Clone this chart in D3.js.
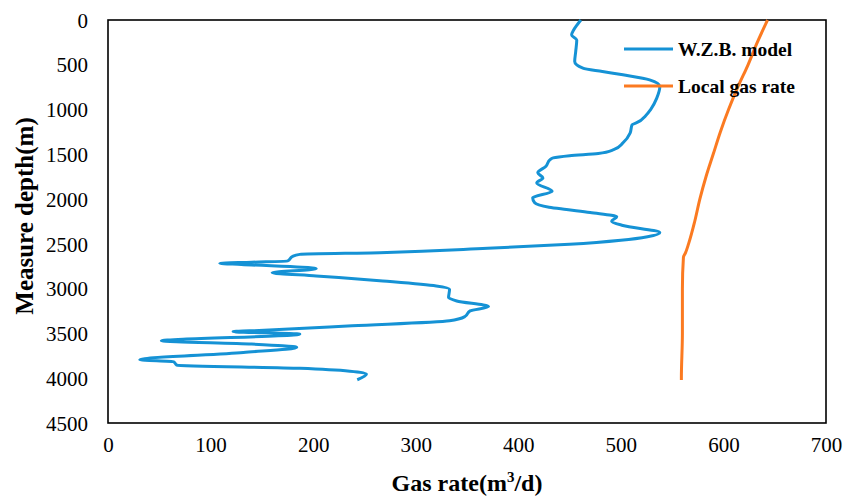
<!DOCTYPE html>
<html>
<head>
<meta charset="utf-8">
<script src="https://cdn.jsdelivr.net/npm/d3@7"></script>
<style>
  html, body { margin: 0; padding: 0; background: #fff; }
  svg { display: block; }
</style>
</head>
<body>
<svg id="chart" width="845" height="498"></svg>
<script>
// ---- data ----
const xTicks = [0, 100, 200, 300, 400, 500, 600, 700];
const yTicks = [0, 500, 1000, 1500, 2000, 2500, 3000, 3500, 4000, 4500];

const wzbDepth = [0, 60, 111, 167, 223, 350, 464, 538, 575, 612, 668, 742, 872, 1000, 1058, 1150, 1169, 1262, 1373, 1448, 1490, 1515, 1540, 1559, 1633, 1707, 1763, 1819, 1912, 1986, 2041, 2090, 2116, 2150, 2197, 2246, 2294, 2375, 2420, 2460, 2505, 2550, 2598, 2617, 2639, 2691, 2705, 2717, 2730, 2777, 2821, 2858, 2914, 2970, 3007, 3099, 3137, 3200, 3248, 3311, 3359, 3415, 3471, 3479, 3508, 3582, 3619, 3656, 3712, 3794, 3816, 3853, 3890, 3953, 4017];
const wzbGas   = [461, 457, 454, 452, 457, 456, 455, 463, 482, 502, 528, 538, 535, 529, 525, 515, 511, 509, 502, 493, 478, 450, 434, 431, 427, 419, 424, 418, 433, 414, 416, 430, 447, 470, 496, 491, 502, 538, 526, 500, 450, 370, 265, 187, 180, 175, 140, 109, 130, 203, 160, 203, 268, 320, 333, 332, 340, 371, 353, 348, 333, 238, 138, 122, 187, 52, 140, 184, 132, 31, 64, 67, 187, 252, 243];

const localDepth = [0, 250, 500, 750, 1000, 1250, 1500, 1750, 2000, 2250, 2500, 2600, 2650, 3000, 3500, 4000, 4020];
const localGas   = [643, 633, 624, 614, 605, 597, 590, 583, 577, 572, 566, 563, 561, 560, 560, 559, 559];

const seriesNames = ["W.Z.B. model", "Local gas rate"];
const seriesColors = ["#1592d5", "#fb7a21"];

// ---- layout ----
const svg = d3.select("#chart");
const L = 108, R = 826, T = 20, B = 423;
const x = d3.scaleLinear().domain([0, 700]).range([L, R]);
const y = d3.scaleLinear().domain([0, 4500]).range([T, B]);
const serif = "'Liberation Serif', 'Times New Roman', serif";

// frame
svg.append("rect").attr("x", L).attr("y", T).attr("width", R - L).attr("height", B - T)
  .attr("fill", "none").attr("stroke", "#000").attr("stroke-width", 1.6);

// axes (labels only)
const xAxis = d3.axisBottom(x).tickValues(xTicks).tickFormat(d3.format("d")).tickSize(0).tickPadding(0);
const gx = svg.append("g").attr("transform", `translate(0,${B})`).call(xAxis);
gx.select(".domain").remove();
gx.selectAll("text").attr("font-family", serif).attr("font-size", 21).attr("fill", "#000")
  .attr("dy", null).attr("y", 29);

const yAxis = d3.axisLeft(y).tickValues(yTicks).tickFormat(d3.format("d")).tickSize(0).tickPadding(20);
const gy = svg.append("g").attr("transform", `translate(${L},0)`).call(yAxis);
gy.select(".domain").remove();
gy.selectAll("text").attr("font-family", serif).attr("font-size", 21).attr("fill", "#000")
  .attr("dy", "0.34em");

// series
const line = d3.line().x(d => x(d[1])).y(d => y(d[0])).curve(d3.curveMonotoneY);
const wzb = wzbDepth.map((d, i) => [d, wzbGas[i]]);
const loc = localDepth.map((d, i) => [d, localGas[i]]);

svg.append("path").datum(loc).attr("d", line).attr("fill", "none")
  .attr("stroke", seriesColors[1]).attr("stroke-width", 3).attr("stroke-linejoin", "round");
svg.append("path").datum(wzb).attr("d", line).attr("fill", "none")
  .attr("stroke", seriesColors[0]).attr("stroke-width", 3).attr("stroke-linejoin", "round");

// legend
const legY = [49, 86];
seriesNames.forEach((n, i) => {
  svg.append("line").attr("x1", 624).attr("x2", 673).attr("y1", legY[i]).attr("y2", legY[i])
    .attr("stroke", seriesColors[i]).attr("stroke-width", 3);
  svg.append("text").attr("x", 678).attr("y", legY[i]).attr("dy", "0.34em")
    .attr("font-family", serif).attr("font-weight", "bold").attr("font-size", 19.5)
    .attr("fill", "#000").text(n);
});

// axis titles
const xt = svg.append("text").attr("x", 467).attr("y", 491).attr("text-anchor", "middle")
  .attr("font-family", serif).attr("font-weight", "bold").attr("font-size", 24).attr("fill", "#000");
xt.append("tspan").text("Gas rate(m");
xt.append("tspan").attr("font-size", 15).attr("dy", -9).text("3");
xt.append("tspan").attr("dy", 9).text("/d)");

svg.append("text").attr("transform", "translate(33,216) rotate(-90)").attr("text-anchor", "middle")
  .attr("font-family", serif).attr("font-weight", "bold").attr("font-size", 25).attr("fill", "#000")
  .text("Measure depth(m)");
</script>
</body>
</html>
